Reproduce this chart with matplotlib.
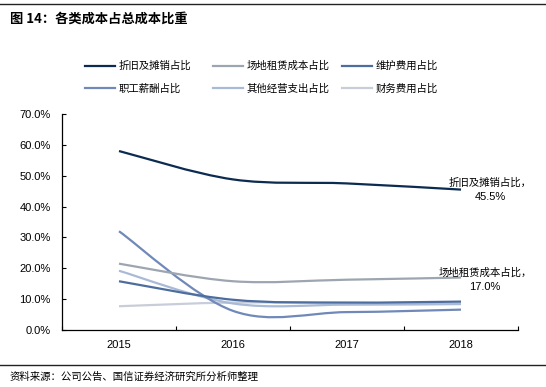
import matplotlib
matplotlib.use("Agg")
import matplotlib.pyplot as plt
from matplotlib.path import Path
from matplotlib.patches import PathPatch
from matplotlib.lines import Line2D
from matplotlib.ticker import FuncFormatter, FixedLocator

plt.rcParams['font.family'] = ['Liberation Sans', 'Noto Sans CJK SC', 'DejaVu Sans']
CJK = ['Noto Sans CJK SC', 'DejaVu Sans']

# ---- data ----
years = ['2015', '2016', '2017', '2018']
series_names = ['折旧及摊销占比', '场地租赁成本占比', '维护费用占比',
                '职工薪酬占比', '其他经营支出占比', '财务费用占比']
depreciation = [58.0, 48.8, 47.5, 45.5]
rent = [21.5, 15.8, 16.3, 17.0]
maintenance = [15.8, 9.8, 8.9, 9.2]
staff = [32.0, 6.2, 5.8, 6.6]
other_ops = [19.2, 8.6, 8.2, 8.4]
finance = [7.7, 8.9, 8.6, 8.5]
yticks = [0, 10, 20, 30, 40, 50, 60, 70]

all_series = [depreciation, rent, maintenance, staff, other_ops, finance]
colors = ['#0c2b50', '#9da6b0', '#4d6d9e', '#7089b9', '#a9bad6', '#c9cdda']

W, H = 546, 387
fig = plt.figure(figsize=(W / 100, H / 100), dpi=100)
ax = fig.add_axes([62 / W, 1 - 330 / H, 456 / W, 216 / H])


def figxy(x, y):
    return (x / W, 1 - y / H)


def smooth_path(xs, ys):
    pts = list(zip(xs, ys))
    n = len(pts)
    verts = [pts[0]]
    codes = [Path.MOVETO]
    for i in range(n - 1):
        p0 = pts[i - 1] if i > 0 else pts[i]
        p1 = pts[i]
        p2 = pts[i + 1]
        p3 = pts[i + 2] if i + 2 < n else pts[i + 1]
        c1 = (p1[0] + (p2[0] - p0[0]) / 6, p1[1] + (p2[1] - p0[1]) / 6)
        c2 = (p2[0] - (p3[0] - p1[0]) / 6, p2[1] - (p3[1] - p1[1]) / 6)
        verts += [c1, c2, p2]
        codes += [Path.CURVE4] * 3
    return Path(verts, codes)


xpos = list(range(len(years)))
for k in [5, 4, 3, 2, 1, 0]:
    p = smooth_path(xpos, all_series[k])
    ax.add_patch(PathPatch(p, fill=False, edgecolor=colors[k], lw=1.6,
                           capstyle='butt', zorder=3))
handles = [Line2D([], [], color=colors[k], lw=1.6) for k in range(6)]

ax.set_xlim(-0.5, len(years) - 0.5)
ax.set_ylim(0, 70)
ax.yaxis.set_major_locator(FixedLocator(yticks))
ax.yaxis.set_major_formatter(FuncFormatter(lambda v, p: f'{v:.1f}%'))
ax.xaxis.set_major_locator(FixedLocator([i - 0.5 for i in range(len(years) + 1)]))
ax.xaxis.set_major_formatter(FuncFormatter(lambda v, p: ''))
ax.xaxis.set_minor_locator(FixedLocator(xpos))
ax.set_xticklabels(years, minor=True)
ax.tick_params(axis='x', which='major', direction='in', length=3, width=0.8)
ax.tick_params(axis='x', which='minor', length=0, labelsize=8, pad=7)
ax.tick_params(axis='y', direction='in', length=3, width=0.8, labelsize=8, pad=8)
for s in ['top', 'right']:
    ax.spines[s].set_visible(False)
for s in ['left', 'bottom']:
    ax.spines[s].set_linewidth(0.9)
    ax.spines[s].set_color('black')

# end-of-line annotations
fig.text(*figxy(490, 183), series_names[0] + '，', fontsize=7.5, family=CJK,
         ha='center', va='center')
fig.text(*figxy(490, 197), f'{depreciation[-1]:.1f}%', fontsize=8,
         ha='center', va='center')
fig.text(*figxy(485, 273), series_names[1] + '，', fontsize=7.5, family=CJK,
         ha='center', va='center')
fig.text(*figxy(485, 287), f'{rent[-1]:.1f}%', fontsize=8,
         ha='center', va='center')

# legend in three fixed columns
col_x = [85, 213, 342]
for c in range(3):
    idx = [c, c + 3]
    fig.legend([handles[i] for i in idx], [series_names[i] for i in idx],
               loc='upper left', bbox_to_anchor=figxy(col_x[c], 61),
               frameon=False, borderpad=0, borderaxespad=0,
               handlelength=2.9, handletextpad=0.3, labelspacing=1.15,
               prop={'family': CJK, 'size': 7.5})

# title, rules, source
fig.add_artist(Line2D([0, 1], [1 - 3.5 / H] * 2, color='#222222', lw=1.0))
fig.text(*figxy(10, 19), '图 14：各类成本占总成本比重', fontsize=9.5,
         family=CJK, fontweight='bold', ha='left', va='center')
fig.add_artist(Line2D([0, 1], [1 - 365 / H] * 2, color='#222222', lw=1.0))
fig.text(*figxy(10, 377), '资料来源：公司公告、国信证券经济研究所分析师整理',
         fontsize=7.5, family=CJK, ha='left', va='center')

fig.savefig('out.png', dpi=100)
